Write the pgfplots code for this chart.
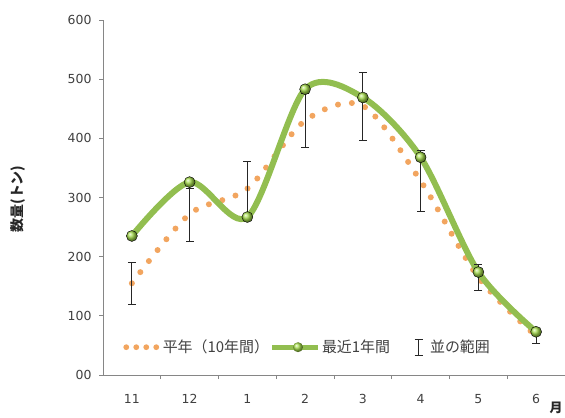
\documentclass[border=0pt]{standalone}
\usepackage{fontspec}
\setmainfont{DejaVu Sans}
\newfontfamily\jp{Noto Sans CJK JP}
\usepackage{pgfplots}
\usepackage{pgfplotstable}
\pgfplotsset{compat=1.18}

\definecolor{axgray}{RGB}{134,134,134}
\definecolor{txtgray}{RGB}{64,64,64}
\definecolor{avgorange}{RGB}{242,165,95}
\definecolor{recgreen}{RGB}{146,190,80}
\definecolor{ballgreen}{RGB}{165,220,75}

% month index, 10-year average, range (+/-), last 12 months
\pgfplotstableread{
x avg ep em rec
0 155 35 35 235
1 272 44 46 326
2 315 46 44 267
3 430 46 46 483
4 455 57 58 469
5 328 52 52 368
6 165 22 23 174
7 66 13 12 73
}\data

\begin{document}
\begin{tikzpicture}
\useasboundingbox (0,0) rectangle (565bp,418bp);
\begin{axis}[
    at={(103bp,43bp)}, anchor=south west,
    scale only axis, width=462bp, height=355bp,
    xmin=-0.5, xmax=7.5, ymin=0, ymax=600,
    axis x line*=bottom, axis y line*=left,
    axis line style={axgray, line width=0.8bp},
    xtick={0.5,1.5,...,6.5}, xticklabels={},
    extra x ticks={0,...,7},
    extra x tick labels={11,12,1,2,3,4,5,6},
    extra x tick style={major tick length=0pt},
    ytick={0,100,...,600}, yticklabels={00,100,200,300,400,500,600},
    tick align=outside, major tick length=4bp,
    tick style={axgray, line width=0.8bp},
    ticklabel style={font=\fontsize{12.5}{14}\selectfont, text=txtgray},
    xticklabel style={yshift=-16bp},
    yticklabel style={xshift=-4bp},
    clip=false,
    legend style={draw=none, fill=none, inner sep=0pt, at={(axis cs:-0.17,47)}, anchor=west,
        font=\jp\fontsize{15}{17}\selectfont, text=txtgray,
        nodes={inner sep=0.5bp},
        /tikz/every even column/.append style={column sep=0bp},
        /tikz/every odd column/.append style={column sep=1bp}},
    legend columns=-1,
]
\addplot[avgorange, line width=6bp, line cap=round, dash pattern=on 0pt off 14bp, smooth,
    legend image code/.code={
      \fill[avgorange, draw=none] (4bp,0) circle (2.9bp) (14bp,0) circle (2.9bp)
        (24bp,0) circle (2.9bp) (34bp,0) circle (2.9bp);
      \path[draw=none] (0,0)--(39bp,0);}]
    table[x=x, y=avg] {\data};
\addlegendentry{平年（10年間）}
\addplot[recgreen, line width=6bp, smooth,
    legend image code/.code={
      \draw[recgreen, line width=5bp] (0bp,0)--(46bp,0);
      \shade[ball color=ballgreen, draw=none] (26bp,0) circle (5bp);}]
    table[x=x, y=rec] {\data};
\addlegendentry{最近1年間}
\addplot[draw=none, mark=none,
    legend image code/.code={
      \draw[black!85, line width=1bp] (28bp,-8bp)--(28bp,8bp) (24bp,-8bp)--(32bp,-8bp) (24bp,8bp)--(32bp,8bp);
      \path[draw=none] (0,0)--(38bp,0);},
    error bars/.cd, y dir=both, y explicit,
    error bar style={draw=black!85, line width=1bp},
    error mark options={rotate=90, mark size=4bp, draw=black!85, line width=1bp}]
    table[x=x, y=avg, y error plus=ep, y error minus=em] {\data};
\addlegendentry{並の範囲}
\addplot[only marks, mark=ball, mark size=5.5bp, mark options={ball color=ballgreen}, forget plot]
    table[x=x, y=rec] {\data};
\end{axis}
\node[rotate=90, font=\jp\bfseries\fontsize{14}{16}\selectfont, text=black!85] at (18bp,219bp) {数量(トン)};
\node[font=\jp\bfseries\fontsize{13}{15}\selectfont, text=black!85] at (556bp,10bp) {月};
\end{tikzpicture}
\end{document}
